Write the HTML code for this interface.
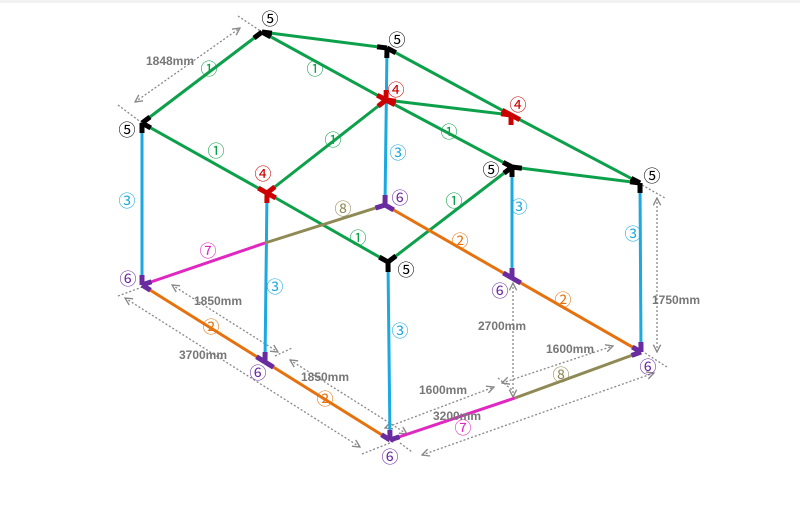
<!DOCTYPE html>
<html><head><meta charset="utf-8"><style>
html,body{margin:0;padding:0;background:#fff;width:800px;height:511px;overflow:hidden}
svg{display:block}
#labels text{font-family:"Noto Sans CJK JP","DejaVu Sans",sans-serif}
.d{font-family:"Liberation Sans",sans-serif;font-size:12px;font-weight:bold;fill:#777}
</style></head><body>
<svg id="s" width="800" height="511" viewBox="0 0 800 511" xmlns="http://www.w3.org/2000/svg">
<defs><marker id="ar" viewBox="0 0 10 10" refX="9" refY="5" markerWidth="7" markerHeight="7" orient="auto-start-reverse"><path d="M1,1 L9,5 L1,9" fill="none" stroke="#888" stroke-width="1.5"/></marker></defs>
<rect x="0" y="0" width="800" height="3" fill="#f2f2f2"/>
<g id="dims" stroke="#888" stroke-width="1.3" stroke-dasharray="2,2" fill="none"></g>
<g id="lines" stroke-width="3" fill="none" stroke-linecap="butt"></g>
<g id="caps" stroke-width="5" fill="none"></g>
<g id="labels" font-size="17" text-anchor="middle"></g>
<g text-anchor="middle">
<text class="d" x="170" y="65">1848mm</text>
<text class="d" x="218" y="305">1850mm</text>
<text class="d" x="203" y="359">3700mm</text>
<text class="d" x="325" y="381">1850mm</text>
<text class="d" x="570" y="353">1600mm</text>
<text class="d" x="443" y="394">1600mm</text>
<text class="d" x="457" y="420">3200mm</text>
<text class="d" x="502" y="330">2700mm</text>
<text class="d" x="676" y="304">1750mm</text>
</g>
</svg>
<script>
const NS="http://www.w3.org/2000/svg";
function el(g,t,a,txt){const e=document.createElementNS(NS,t);for(const k in a)e.setAttribute(k,a[k]);if(txt)e.textContent=txt;document.getElementById(g).appendChild(e);return e;}
const P={A:[142,123],B:[262,32],C:[387,48],D:[512,167],E:[640,183],F:[388,262],G:[267,193],H:[386,100],I:[511,115],
Ap:[142,285],Fp:[390,440],Ep:[641,352],J:[265,362],Hp:[385,205],Ip:[512,278],K:[265,243],L:[515,398]};
const GR="#0da04a",BL="#1aa9e0",OR="#e5720e",PK="#e028c0",OL="#8f8a55";
const L=[["A","B",GR],["B","C",GR],["B","H",GR],["H","D",GR],["C","I",GR],["I","E",GR],["A","G",GR],["G","F",GR],["G","H",GR],["H","I",GR],["D","E",GR],["F","D",GR],
["A","Ap",BL],["C","Hp",BL],["G","J",BL],["F","Fp",BL],["D","Ip",BL],["E","Ep",BL],
["Ap","K",PK],["K","Hp",OL],["Fp","L",PK],["L","Ep",OL],["Hp","Ep",OR],["Ap","Fp",OR]];
L.forEach(([a,b,c])=>el("lines","line",{x1:P[a][0],y1:P[a][1],x2:P[b][0],y2:P[b][1],stroke:c}));
const caps={A:["#000",["B","G","Ap"]],B:["#000",["A","C","H"]],C:["#000",["B","I","H"]],D:["#000",["H","E","F","Ip"]],E:["#000",["I","D","Ep"]],F:["#000",["G","D","Fp"]],
G:["#c00",["A","F","H","J"]],H:["#c00",["B","D","G","I","C"]],I:["#c00",["H","C","E","Ip"]],
Ap:["#6a2aa0",["A","K","Fp"]],Fp:["#6a2aa0",["F","Ap","L"]],Ep:["#6a2aa0",["E","Hp","L"]],J:["#6a2aa0",["G","Ap","Fp"]],Hp:["#6a2aa0",["C","K","Ep"]],Ip:["#6a2aa0",["D","Hp","Ep"]]};
for(const n in caps){const [c,nb]=caps[n];const p=P[n];nb.forEach(m=>{const q=P[m];
 const dx=q[0]-p[0],dy=q[1]-p[1],l=Math.hypot(dx,dy),s=10;
 el("caps","line",{x1:p[0],y1:p[1],x2:p[0]+dx/l*s,y2:p[1]+dy/l*s,stroke:c});});}
const lab=[["⑤",270,25,"#000"],["⑤",397,46,"#000"],["⑤",127,136,"#000"],["⑤",491,176,"#000"],["⑤",652,182,"#000"],["⑤",406,276,"#000"],
["④",396,96,"#c00"],["④",518,111,"#c00"],["④",263,180,"#c00"],
["①",209,75,GR],["①",315,75,GR],["①",216,157,GR],["①",333,146,GR],["①",449,138,GR],["①",358,244,GR],["①",454,207,GR],
["③",127,207,BL],["③",398,159,BL],["③",275,293,BL],["③",400,337,BL],["③",519,213,BL],["③",633,240,BL],
["⑥",128,285,"#6a2aa0"],["⑥",400,204,"#6a2aa0"],["⑥",258,379,"#6a2aa0"],["⑥",500,297,"#6a2aa0"],["⑥",390,463,"#6a2aa0"],["⑥",648,373,"#6a2aa0"],
["⑦",208,257,PK],["⑦",463,434,PK],["⑧",343,215,OL],["⑧",561,381,OL],["②",460,247,OR],["②",563,306,OR],["②",211,333,OR],["②",325,405,OR]];
lab.forEach(([t,x,y,c])=>el("labels","text",{x:x,y:y,fill:c},t));
const D=[[135,102,240,28,1],[238,16,262,32,0],[118,105,142,123,0],[172,285,278,352,1],[275,356,292,348,0],[125,298,360,447,1],[118,296,145,286,0],[362,454,395,441,0],[400,443,412,452,0],
[290,360,407,434,1],[502,383,613,346,1],[385,428,494,387,1],[422,455,654,373,1],[645,353,667,367,0],[498,378,512,390,0],
[513,283,513,397,1],[657,198,657,352,1],[642,185,665,198,0]];
D.forEach(([a,b,c,d,m])=>{const e=el("dims","line",{x1:a,y1:b,x2:c,y2:d});if(m){e.setAttribute("marker-start","url(#ar)");e.setAttribute("marker-end","url(#ar)");}});
</script>
</body></html>
